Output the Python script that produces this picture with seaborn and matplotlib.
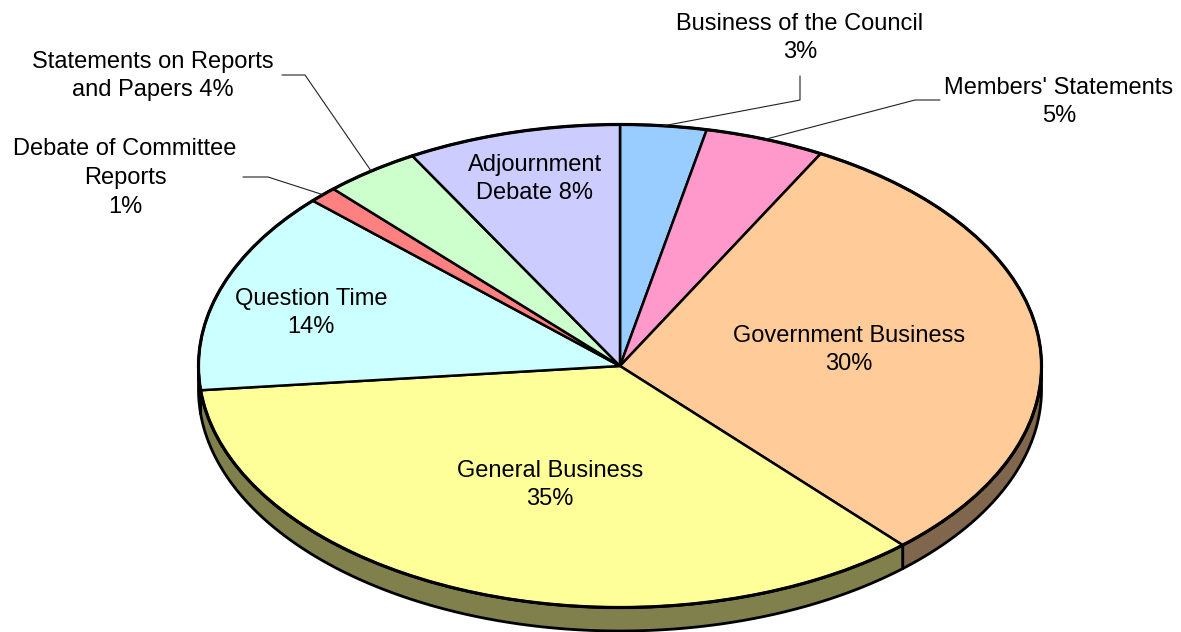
"""
Sitting time by business type - 3D style pie (Excel look-alike).
"""

import numpy as np
import matplotlib
matplotlib.use("Agg")
import matplotlib.pyplot as plt
from matplotlib.colors import to_rgb
from matplotlib.patches import Circle
import seaborn as sns

# ──────────────────────────────────────────────
# Data (clockwise from 12 o'clock)
# ──────────────────────────────────────────────
categories = [
    "Business of the Council", "Members' Statements", "Government Business",
    "General Business", "Question Time", "Debate of Committee\nReports",
    "Statements on Reports\nand Papers", "Adjournment\nDebate",
]
shares = [3.3, 4.6, 30.4, 35.1, 13.6, 1.1, 3.7, 8.2]
pct_sep = ["\n", "\n", "\n", "\n", "\n", "\n", " ", " "]
top_colors = ["#99CCFF", "#FF99CC", "#FFCC99", "#FFFF99",
              "#CCFFFF", "#FF8080", "#CCFFCC", "#CCCCFF"]

# ──────────────────────────────────────────────
# Layout (pixels, origin top-left)
# ──────────────────────────────────────────────
W, H = 1181, 632
CX, CY = 620, 366
RX, RY = 421.5, 241.5
DEPTH = 23.5 / RY

label_pos = [(800, 38), (1059, 102), (849, 350), (550, 485),
             (311, 313), (125, 178), (153, 76), (535, 179)]
leaders = {0: [(800, 100), (800, 76)],
           1: [(915, 100), (940, 100)],
           5: [(268, 177), (243, 177)],
           6: [(305, 75), (282, 75)]}


def px(x, y):
    return (x - CX) / RX, (CY - y) / RY


def darker(c):
    return tuple(v * 0.5 for v in to_rgb(c))


sns.set_theme(style="white")
plt.rcParams["font.family"] = ["Liberation Sans", "DejaVu Sans"]

fig = plt.figure(figsize=(W / 100, H / 100), dpi=100)
ax = fig.add_axes([0, 0, 1, 1])

total = sum(shares)
bounds = np.concatenate([[0], np.cumsum(shares)]) / total

# ── side wall (front half only) ──
for i, (p0, p1) in enumerate(zip(bounds[:-1], bounds[1:])):
    lo = max(90 - 360 * p1, -180)
    hi = min(90 - 360 * p0, 0)
    if lo >= hi:
        continue
    t = np.radians(np.linspace(lo, hi, 200))
    xs = np.concatenate([np.cos(t), np.cos(t[::-1])])
    ys = np.concatenate([np.sin(t), np.sin(t[::-1]) - DEPTH])
    ax.fill(xs, ys, fc=darker(top_colors[i]), ec="black", lw=2.0,
            joinstyle="round", zorder=1)

# ── top face ──
ax.pie(shares, colors=top_colors, startangle=90, counterclock=False,
       wedgeprops=dict(edgecolor="black", linewidth=1.8, zorder=2))
ax.add_patch(Circle((0, 0), 1, fill=False, ec="black", lw=2.3, zorder=3))

# ── labels ──
for i, (name, v) in enumerate(zip(categories, shares)):
    x, y = px(*label_pos[i])
    ax.text(x, y, f"{name}{pct_sep[i]}{v:.0f}%", ha="center", va="center",
            fontsize=17, color="black", linespacing=1.4, zorder=5)

# ── leader lines from wedge mid-arc ──
for i, pts in leaders.items():
    mid = np.radians(90 - 360 * (bounds[i] + bounds[i + 1]) / 2)
    xs = [np.cos(mid)] + [px(*p)[0] for p in pts]
    ys = [np.sin(mid)] + [px(*p)[1] for p in pts]
    ax.plot(xs, ys, color="#222222", lw=0.8, zorder=4)

ax.set_aspect("auto")
ax.set_xlim(px(0, 0)[0], px(W, 0)[0])
ax.set_ylim(px(0, H)[1], px(0, 0)[1])
ax.axis("off")

fig.savefig("out.png", dpi=100, facecolor="white")
plt.close(fig)
